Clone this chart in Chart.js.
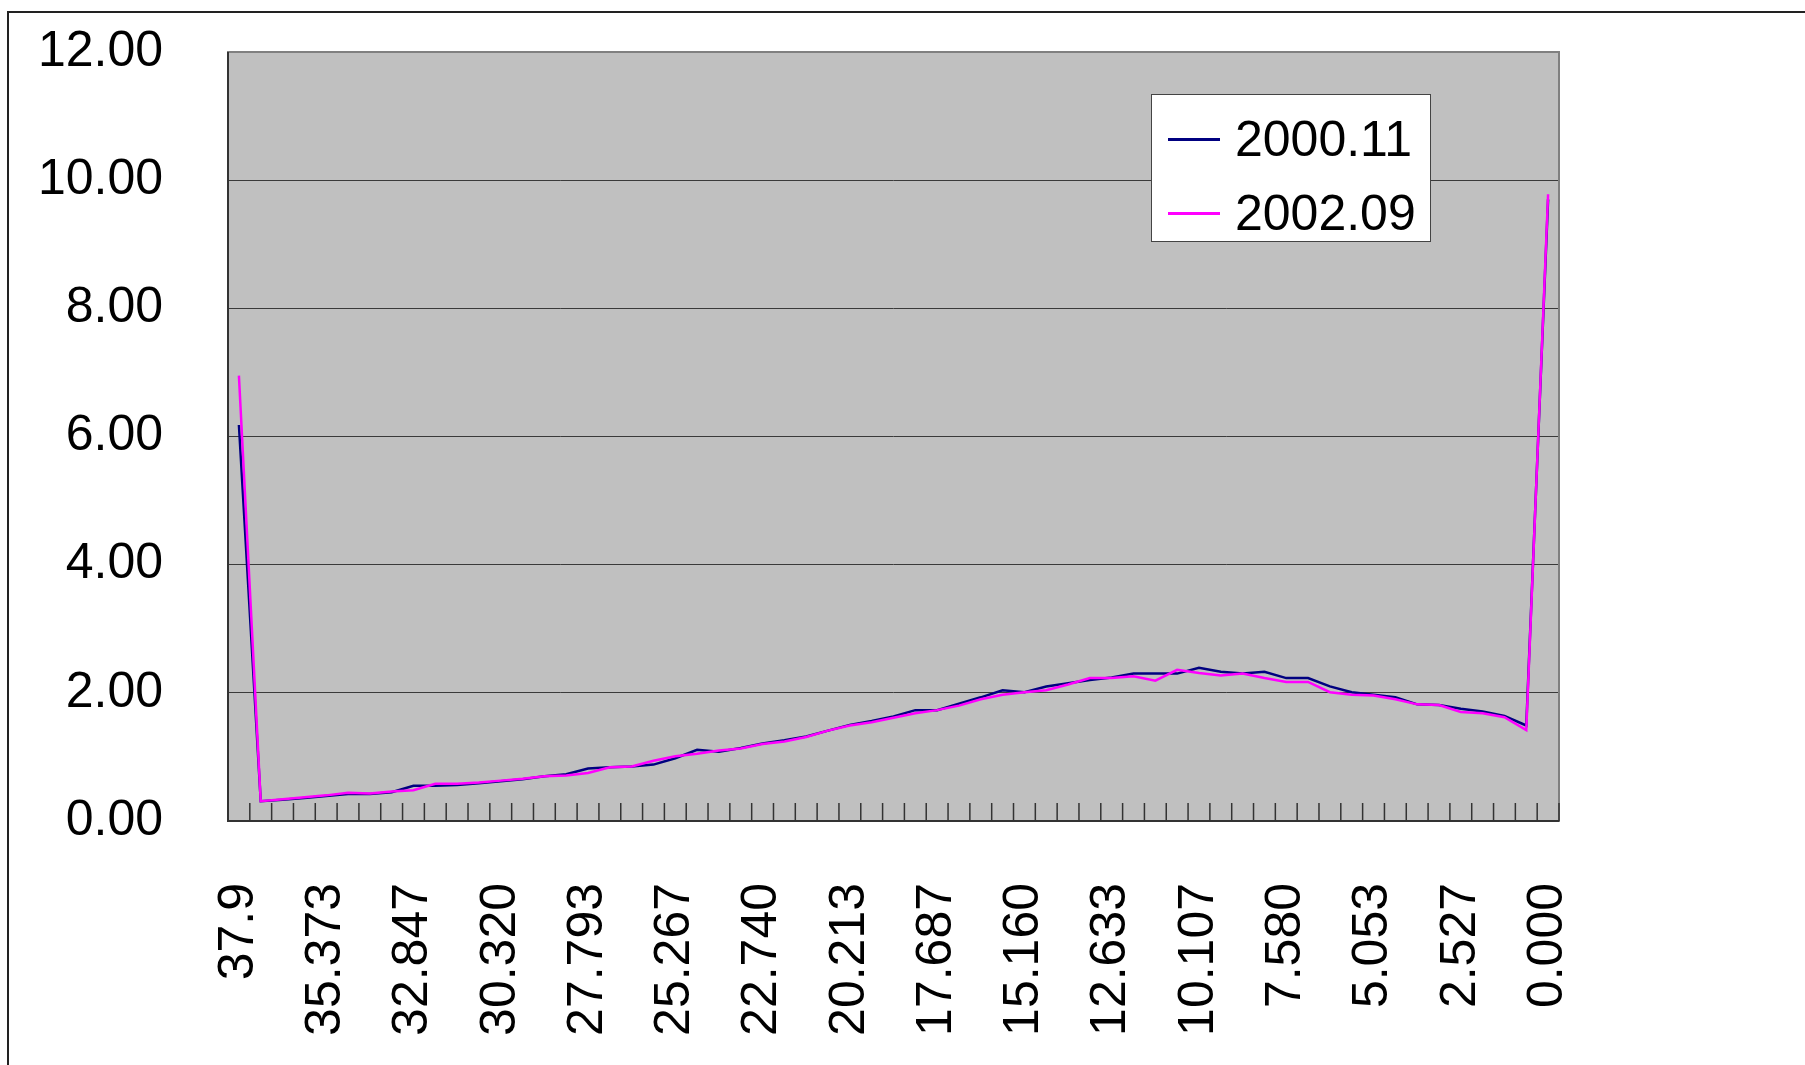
<!DOCTYPE html>
<html>
<head>
<meta charset="utf-8">
<script src="https://cdn.jsdelivr.net/npm/chart.js@4/dist/chart.umd.min.js"></script>
<style>
    body { margin: 0; background: #fff; }
    #wrap { position: relative; width: 1805px; height: 1065px; overflow: hidden; }
    #frame { position: absolute; left: 7px; top: 11px; width: 1805px; height: 1065px; border-left: 2px solid #222; border-top: 2px solid #222; }
    #legend { position: absolute; left: 1151px; top: 94px; width: 278px; height: 146px; background: #fff; border: 1.5px solid #444; font-family: 'Liberation Sans', Arial, sans-serif; font-size: 50px; color: #000; }
    .legend-row { position: absolute; left: 16px; height: 60px; display: flex; align-items: center; }
    .legend-line { width: 52px; height: 3px; margin-right: 15px; }
</style>
</head>
<body>
<div id="wrap">
    <div id="frame"></div>
    <canvas id="myChart" width="1805" height="1065"></canvas>
    <div id="legend"></div>
</div>
<script>
let categories = ['37.9', '37.268', '36.637', '36.005', '35.373', '34.742', '34.110', '33.478', '32.847', '32.215',
    '31.583', '30.952', '30.320', '29.688', '29.057', '28.425', '27.793', '27.162', '26.530', '25.898',
    '25.267', '24.635', '24.003', '23.372', '22.740', '22.108', '21.477', '20.845', '20.213', '19.582',
    '18.950', '18.318', '17.687', '17.055', '16.423', '15.792', '15.160', '14.528', '13.897', '13.265',
    '12.633', '12.002', '11.370', '10.738', '10.107', '9.475', '8.843', '8.212', '7.580', '6.948',
    '6.317', '5.685', '5.053', '4.422', '3.790', '3.158', '2.527', '1.895', '1.263', '0.632', '0.000']
let labelEvery = 4

let series2000 = [6.18, 0.31, 0.33, 0.36, 0.39, 0.42, 0.42, 0.45, 0.55, 0.55,
    0.56, 0.59, 0.62, 0.65, 0.70, 0.73, 0.82, 0.84, 0.85, 0.88,
    0.98, 1.11, 1.08, 1.14, 1.21, 1.26, 1.32, 1.41, 1.50, 1.56,
    1.63, 1.73, 1.73, 1.83, 1.93, 2.04, 2.01, 2.10, 2.15, 2.20,
    2.24, 2.30, 2.30, 2.30, 2.39, 2.33, 2.30, 2.33, 2.23, 2.23,
    2.10, 2.01, 1.97, 1.93, 1.82, 1.81, 1.75, 1.71, 1.64, 1.49, 9.70]
let series2002 = [6.95, 0.31, 0.34, 0.37, 0.40, 0.44, 0.43, 0.46, 0.48, 0.58,
    0.58, 0.60, 0.63, 0.66, 0.70, 0.71, 0.75, 0.84, 0.85, 0.94,
    1.01, 1.05, 1.10, 1.13, 1.20, 1.24, 1.31, 1.41, 1.49, 1.54,
    1.61, 1.68, 1.73, 1.80, 1.90, 1.97, 2.01, 2.04, 2.13, 2.23,
    2.23, 2.26, 2.19, 2.36, 2.31, 2.27, 2.30, 2.23, 2.17, 2.17,
    2.01, 1.97, 1.96, 1.90, 1.82, 1.81, 1.70, 1.68, 1.62, 1.42, 9.78]

let yTicks = [0, 2, 4, 6, 8, 10, 12]

let fontFamily = "'Liberation Sans', Arial, sans-serif"

// plot background, frame and the small inside tick marks of the category axis
const plotDecor = {
    id: 'plotDecor',
    beforeDraw: (chart) => {
        let c = chart.ctx
        let a = chart.chartArea
        c.save()
        c.fillStyle = '#c0c0c0'
        c.fillRect(a.left, a.top, a.right - a.left, a.bottom - a.top)
        c.restore()
    },
    afterDatasetsDraw: (chart) => {
        let c = chart.ctx
        let a = chart.chartArea
        let x = chart.scales.x
        let n = categories.length
        let w = (a.right - a.left) / n
        c.save()
        c.strokeStyle = '#808080'
        c.lineWidth = 2
        c.strokeRect(a.left, a.top, a.right - a.left, a.bottom - a.top)
        c.strokeStyle = '#333'
        c.lineWidth = 2
        c.beginPath()
        c.moveTo(a.left, a.top)
        c.lineTo(a.left, a.bottom)
        c.lineTo(a.right, a.bottom)
        c.stroke()
        c.lineWidth = 1.5
        c.beginPath()
        for (let i = 1; i <= n; i++) {
            let px = x.getPixelForValue(i - 1) + w / 2
            c.moveTo(px, a.bottom)
            c.lineTo(px, a.bottom - 18)
        }
        c.stroke()
        c.restore()
    }
}

const ctx = document.getElementById('myChart').getContext('2d')

let myChart = new Chart(ctx, {
    type: 'line',
    data: {
        labels: categories,
        datasets: [{
            label: '2000.11',
            data: series2000,
            borderColor: '#000080',
            backgroundColor: '#000080',
            borderWidth: 2.5,
            pointRadius: 0,
            tension: 0,
            order: 2
        }, {
            label: '2002.09',
            data: series2002,
            borderColor: '#ff00ff',
            backgroundColor: '#ff00ff',
            borderWidth: 2.5,
            pointRadius: 0,
            tension: 0,
            order: 1
        }]
    },
    options: {
        responsive: false,
        devicePixelRatio: 1,
        animation: false,
        layout: {
            padding: { left: 0, top: 52, right: 246, bottom: 0 }
        },
        plugins: {
            legend: { display: false },
            tooltip: { enabled: false }
        },
        scales: {
            x: {
                type: 'category',
                offset: true,
                grid: { display: false, drawTicks: false },
                border: { display: false },
                ticks: {
                    autoSkip: false,
                    maxRotation: 90,
                    minRotation: 90,
                    padding: 62,
                    color: '#000',
                    font: { family: fontFamily, size: 50 },
                    callback: (val, i) => i % labelEvery === 0 ? categories[i] : ''
                },
                afterFit: (scale) => {
                    scale.height = 1065 - 821
                    scale.paddingLeft = 0
                    scale.paddingRight = 0
                }
            },
            y: {
                min: 0,
                max: 12,
                afterBuildTicks: (scale) => { scale.ticks = yTicks.map(v => ({ value: v })) },
                grid: { color: '#3a3a3a', lineWidth: 1, drawTicks: false },
                border: { display: false },
                ticks: {
                    padding: 65,
                    color: '#000',
                    font: { family: fontFamily, size: 50 },
                    callback: (v) => Number(v).toFixed(2)
                },
                afterFit: (scale) => {
                    scale.width = 228
                    scale.paddingTop = 0
                    scale.paddingBottom = 0
                }
            }
        }
    },
    plugins: [plotDecor]
})

let legendBox = document.getElementById('legend')
myChart.data.datasets.forEach((ds, i) => {
    let row = document.createElement('div')
    row.classList.add('legend-row')
    row.style.top = (14 + i * 74) + 'px'
    let line = document.createElement('div')
    line.classList.add('legend-line')
    line.style.backgroundColor = ds.borderColor
    let txt = document.createElement('span')
    txt.innerText = ds.label
    row.appendChild(line)
    row.appendChild(txt)
    legendBox.appendChild(row)
})
</script>
</body>
</html>
